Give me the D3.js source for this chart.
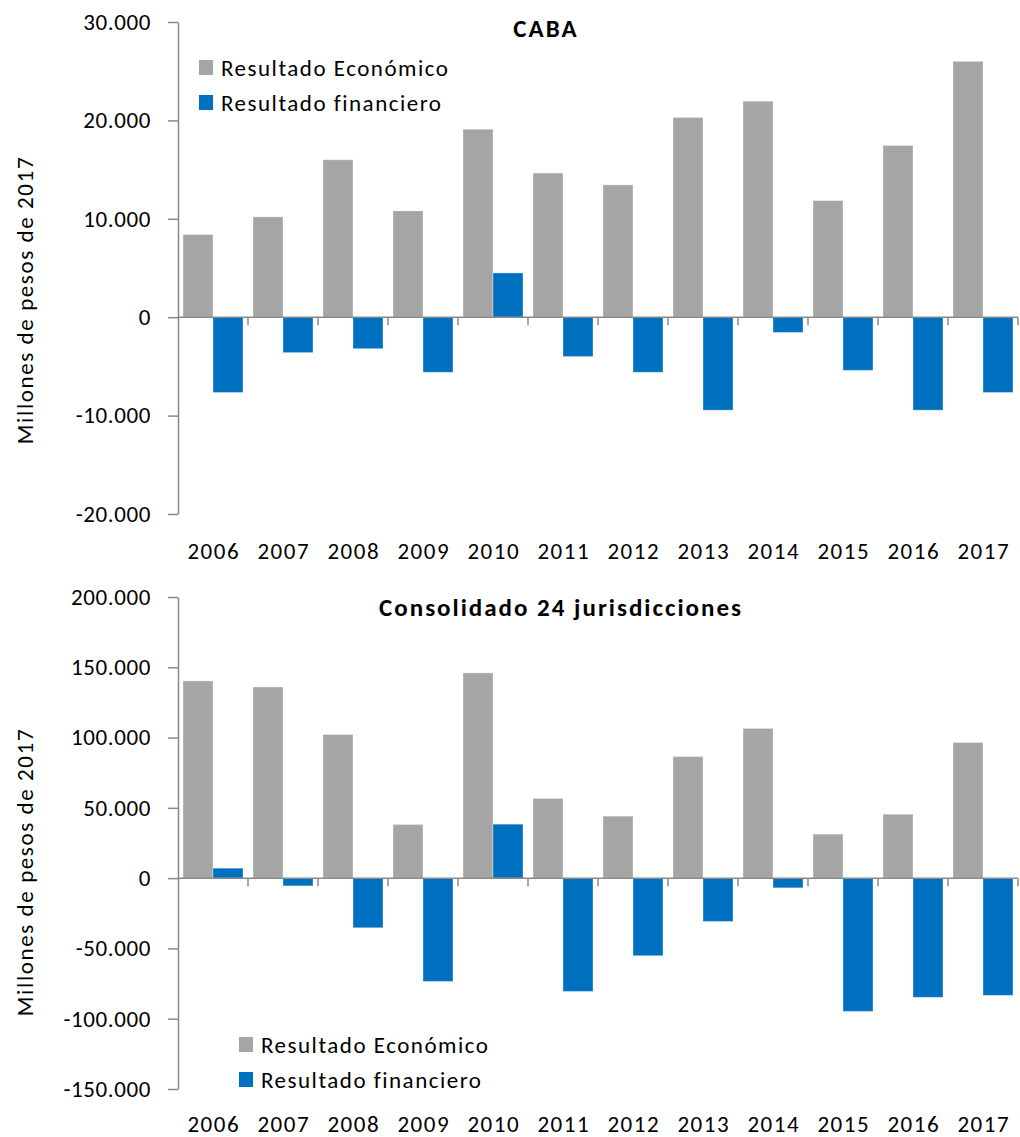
<!DOCTYPE html>
<html><head><meta charset="utf-8">
<script src="https://cdn.jsdelivr.net/npm/d3@7"></script>
<style>
body{margin:0;background:#fff;}
text{font-family:Calibri,Carlito,Lato,"Liberation Sans",sans-serif;fill:#000;}
</style></head>
<body><svg id="c" width="1020" height="1137"></svg>
<script>
const years = ["2006","2007","2008","2009","2010","2011","2012","2013","2014","2015","2016","2017"];
const seriesNames = ["Resultado Económico","Resultado financiero"];
const seriesColors = ["#A5A5A5","#0070C0"];
// CABA
const cabaEconomico = [8400,10200,16000,10800,19100,14650,13450,20300,21950,11850,17450,26000];
const cabaFinanciero = [-7650,-3600,-3200,-5600,4500,-4000,-5600,-9450,-1550,-5400,-9450,-7650];
const cabaTicks = [-20000,-10000,0,10000,20000,30000];
// Consolidado 24 jurisdicciones
const consEconomico = [140300,136000,102200,38200,146000,56700,44100,86500,106500,31300,45500,96500];
const consFinanciero = [7100,-5500,-35300,-73500,38400,-80600,-55200,-30800,-6900,-94800,-84800,-83400];
const consTicks = [-150000,-100000,-50000,0,50000,100000,150000,200000];

const yTitle = "Millones de pesos de 2017";
const loc = d3.formatLocale({decimal:",",thousands:".",grouping:[3],currency:["$",""],minus:"-"});
const fmt = loc.format(",.0f");
const svg = d3.select("#c");
const FS = 23;
const LS = 1.5;

function drawChart(cfg){
  const g = svg.append("g");
  const x0 = d3.scaleBand().domain(years).range([178,1018]).padding(0);
  const x1 = d3.scaleBand().domain(seriesNames).range([0,x0.bandwidth()]).paddingInner(0).paddingOuter(1/6);
  const y = d3.scaleLinear().domain([cfg.ticks[0],cfg.ticks[cfg.ticks.length-1]]).range([cfg.bottom,cfg.top]);
  const data = years.map((yr,i)=>({year:yr, vals:[{s:seriesNames[0],v:cfg.eco[i],c:seriesColors[0]},{s:seriesNames[1],v:cfg.fin[i],c:seriesColors[1]}]}));
  const grp = g.selectAll("g.cat").data(data).join("g").attr("transform",d=>`translate(${x0(d.year)},0)`);
  grp.selectAll("rect").data(d=>d.vals).join("rect")
    .attr("x",d=>x1(d.s)).attr("width",x1.bandwidth())
    .attr("y",d=>y(Math.max(0,d.v))).attr("height",d=>Math.abs(y(d.v)-y(0)))
    .attr("fill",d=>d.c).attr("stroke","#ffffff").attr("stroke-opacity",0.35).attr("stroke-width",1);
  // y axis
  const ya = d3.axisLeft(y).tickValues(cfg.ticks).tickFormat(fmt).tickSize(10).tickSizeOuter(0).tickPadding(17);
  const yg = g.append("g").attr("transform","translate(178,0)").call(ya);
  yg.select(".domain").attr("stroke","#898989").attr("stroke-width",1.5);
  yg.selectAll(".tick line").attr("stroke","#898989").attr("stroke-width",1.5);
  yg.selectAll(".tick text").attr("font-size",FS).attr("font-family",null).attr("fill","#000").attr("letter-spacing",0.6);
  // x axis at zero
  const zy = y(0);
  g.append("line").attr("x1",178).attr("x2",1018).attr("y1",zy).attr("y2",zy).attr("stroke","#898989").attr("stroke-width",1.5);
  g.selectAll("line.xt").data(years).join("line").attr("class","xt")
    .attr("x1",d=>x0(d)+x0.bandwidth()).attr("x2",d=>x0(d)+x0.bandwidth())
    .attr("y1",zy).attr("y2",zy+8).attr("stroke","#898989").attr("stroke-width",1.5);
  g.selectAll("text.xl").data(years).join("text").attr("class","xl")
    .attr("x",d=>x0(d)+x0.bandwidth()/2+LS/2).attr("y",cfg.labelY)
    .attr("text-anchor","middle").attr("font-size",FS).attr("letter-spacing",LS).text(d=>d);
  // title
  g.append("text").attr("x",cfg.titleX).attr("y",cfg.titleY).attr("text-anchor","middle")
    .attr("font-size",25).attr("font-weight","bold").attr("letter-spacing",2).text(cfg.title);
  // y title
  g.append("text").attr("transform",`translate(33,${cfg.yTitleC}) rotate(-90)`).attr("text-anchor","middle")
    .attr("font-size",FS).attr("letter-spacing",1.6).text(yTitle);
  // legend
  const lg = g.selectAll("g.leg").data(seriesNames).join("g").attr("class","leg")
    .attr("transform",(d,i)=>`translate(${cfg.legX},${cfg.legY+i*35})`);
  lg.append("rect").attr("x",0).attr("y",-16).attr("width",14).attr("height",15).attr("fill",(d,i)=>seriesColors[i]);
  lg.append("text").attr("x",22).attr("y",0).attr("font-size",FS).attr("letter-spacing",LS).text(d=>d);
}

drawChart({eco:cabaEconomico,fin:cabaFinanciero,ticks:cabaTicks,top:22,bottom:514,labelY:559,
  title:"CABA",titleX:546,titleY:37,yTitleC:300,legX:199,legY:76});
drawChart({eco:consEconomico,fin:consFinanciero,ticks:consTicks,top:597,bottom:1089,labelY:1132,
  title:"Consolidado 24 jurisdicciones",titleX:561,titleY:616,yTitleC:872,legX:239,legY:1053});
</script></body></html>
